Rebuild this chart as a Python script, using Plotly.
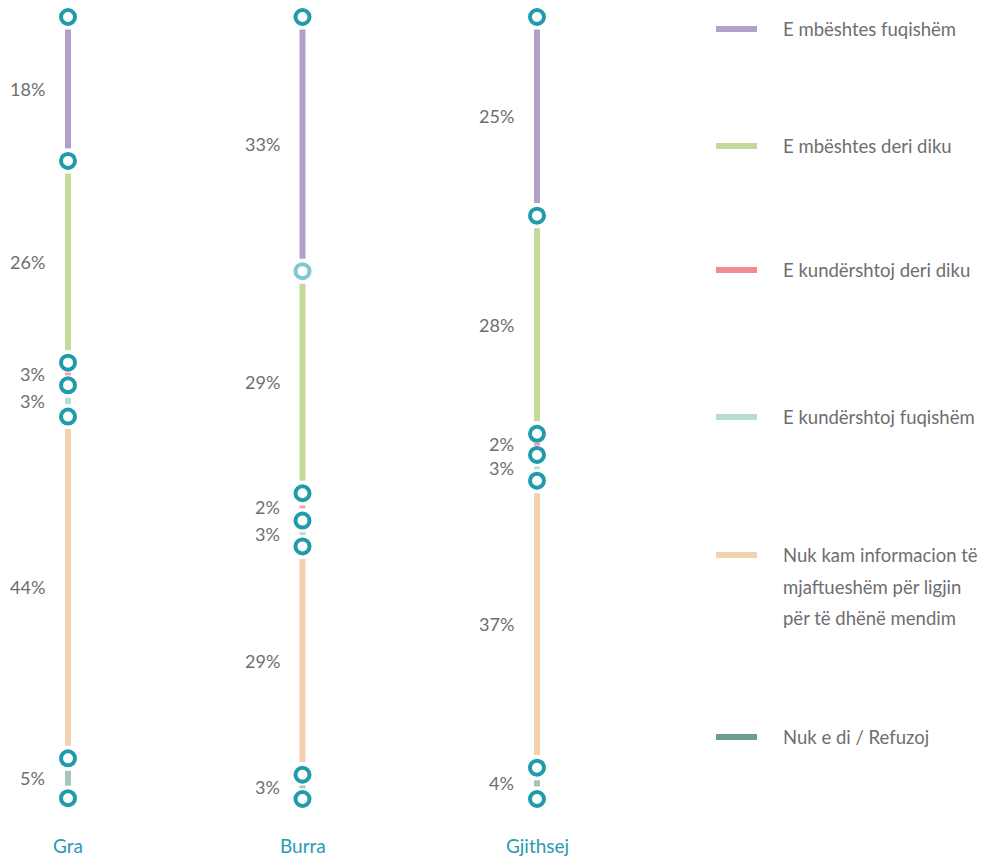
import plotly.graph_objects as go

# ---- data ----
groups = ["Gra", "Burra", "Gjithsej"]
categories = ["E mbështes fuqishëm", "E mbështes deri diku", "E kundërshtoj deri diku",
              "E kundërshtoj fuqishëm",
              "Nuk kam informacion të|mjaftueshëm për ligjin|për të dhënë mendim",
              "Nuk e di / Refuzoj"]
# segment sizes as drawn (percent of column height)
gra_vals = [18.4, 25.8, 2.9, 4.0, 43.7, 5.1]
burra_vals = [32.5, 28.4, 3.5, 3.3, 29.2, 3.1]
gjithsej_vals = [25.4, 27.9, 2.7, 3.3, 36.7, 4.0]
# printed labels
gra_labels = ["18%", "26%", "3%", "3%", "44%", "5%"]
burra_labels = ["33%", "29%", "2%", "3%", "29%", "3%"]
gjithsej_labels = ["25%", "28%", "2%", "3%", "37%", "4%"]

values = [gra_vals, burra_vals, gjithsej_vals]
labels = [gra_labels, burra_labels, gjithsej_labels]

seg_colors = ["#b1a1c9", "#c6d99b", "#f5a0a8", "#b5ddd0", "#f3d0b0", "#a6c6b7"]
legend_colors = ["#b1a1c9", "#c6d99b", "#f58a94", "#b5ddd0", "#f3d0b0", "#6d9e88"]
ring = "#1f9bab"
ring_light = "#7ec8d4"
text_gray = "#6d6e71"
font_family = "Lato, 'Open Sans', sans-serif"

W, H = 989, 861
px_per_unit = 7.82
y_top_px = 17
x_unit_px = 234.5
x0_px = 68

fig = go.Figure()

for gi, (vals, labs) in enumerate(zip(values, labels)):
    bounds = [0.0]
    for v in vals:
        bounds.append(bounds[-1] + v)
    # segments
    for si, v in enumerate(vals):
        a, b = bounds[si], bounds[si + 1]
        gap = min(1.6, (v - 0.35) / 2)
        fig.add_trace(go.Scatter(
            x=[gi, gi], y=[a + gap, b - gap], mode="lines",
            line=dict(color=seg_colors[si], width=6),
            hoverinfo="skip", showlegend=False))
        fig.add_annotation(x=gi, y=(a + b) / 2, text=labs[si], showarrow=False,
                           xanchor="right", yanchor="middle", xshift=-21,
                           font=dict(family=font_family, size=18, color=text_gray))
    # markers
    mcolors = [ring] * len(bounds)
    if gi == 1:
        mcolors[1] = ring_light
    fig.add_trace(go.Scatter(
        x=[gi] * len(bounds), y=bounds, mode="markers",
        marker=dict(size=14, color="white", line=dict(color=mcolors, width=4)),
        hoverinfo="skip", showlegend=False))
    fig.add_annotation(x=gi, y=106.0, text=groups[gi], showarrow=False,
                       font=dict(family=font_family, size=19, color="#2a9bb0"),
                       xanchor="center", yanchor="middle")

# legend (custom)
leg_y_px = [29, 146, 270, 417, 555, 737]
line_step_px = 31.5
for i, cat in enumerate(categories):
    yp = 1 - leg_y_px[i] / H
    fig.add_shape(type="line", xref="paper", yref="paper",
                  x0=716 / W, x1=757 / W, y0=yp, y1=yp,
                  line=dict(color=legend_colors[i], width=6))
    for li, part in enumerate(cat.split("|")):
        fig.add_annotation(xref="paper", yref="paper", x=781 / W,
                           y=1 - (leg_y_px[i] + li * line_step_px) / H,
                           text=part, showarrow=False, xanchor="left", yanchor="middle",
                           align="left",
                           font=dict(family=font_family, size=18.5, color=text_gray))

x_lo = -x0_px / x_unit_px
x_hi = (W - x0_px) / x_unit_px
y_lo = -y_top_px / px_per_unit
y_hi = (H - y_top_px) / px_per_unit

fig.update_layout(
    width=W, height=H, margin=dict(l=0, r=0, t=0, b=0),
    paper_bgcolor="white", plot_bgcolor="white",
    xaxis=dict(range=[x_lo, x_hi], visible=False, fixedrange=True),
    yaxis=dict(range=[y_hi, y_lo], visible=False, fixedrange=True),
    showlegend=False,
    font=dict(family=font_family),
)

fig.write_html("out.html", config={"displayModeBar": False},
               post_script="document.body.style.margin='0';")
